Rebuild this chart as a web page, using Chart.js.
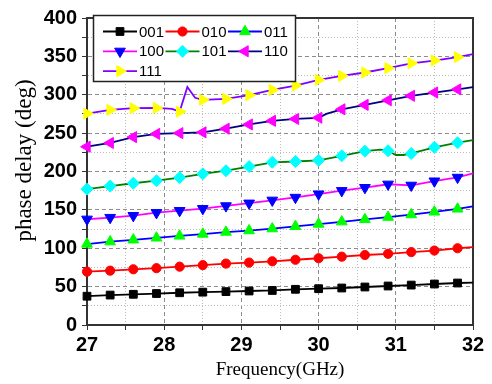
<!DOCTYPE html>
<html>
<head>
<meta charset="utf-8">
<script src="https://cdn.jsdelivr.net/npm/chart.js@4/dist/chart.umd.min.js"></script>
<style>
  html, body { margin: 0; padding: 0; background: #fff; }
  #wrap { width: 492px; height: 384px; position: relative; }
</style>
</head>
<body>
<div id="wrap"><canvas id="c" width="492" height="384"></canvas></div>
<script>
// Frequency grid (GHz), 0.1 GHz steps; null = no sample, line spans the gap
const _ = null;
const freqGHz = [
  27.0, 27.1, 27.2, 27.3, 27.4, 27.5, 27.6, 27.7, 27.8, 27.9,
  28.0, 28.1, 28.2, 28.3, 28.4, 28.5, 28.6, 28.7, 28.8, 28.9,
  29.0, 29.1, 29.2, 29.3, 29.4, 29.5, 29.6, 29.7, 29.8, 29.9,
  30.0, 30.1, 30.2, 30.3, 30.4, 30.5, 30.6, 30.7, 30.8, 30.9,
  31.0, 31.1, 31.2, 31.3, 31.4, 31.5, 31.6, 31.7, 31.8, 31.9, 32.0
];

// Phase delay (deg) for each 3-bit state
const phase001 = [37.5,_,_, 39,_,_, 40,_,_, 41,_,_, 42,_,_, 42.8,_,_, 43.5,_,_, 44.3,_,_, 45,_,_,
  46.5,_,_, 47.3,_,_, 48.2,_,_, 49.5,_,_, 50.8,_,_, 52,_,_, 53.4,_,_, 54.7,_,55.3];
const phase010 = [69.5,_,_, 70.8,_,_, 72.6,_,_, 74,_,_, 76,_,_, 78,_,_, 80,_,_, 81.3,_,_, 83,_,_,
  85,_,_, 87,_,_, 89,_,_, 91.2,_,_, 92.8,_,_, 95,_,_, 97,_,_, 100,_,101.5];
const phase011 = [105.5,_,_, 108.5,_,_, 111,_,_, 113.5,_,_, 116,_,_, 118.5,_,_, 121,_,_, 123,_,_, 125.5,_,_,
  128.5,_,_, 131.5,_,_, 134.5,_,_, 137.5,_,_, 140.5,_,_, 143.8,_,_, 147.3,_,_, 151.2,_,154.5];
const phase100 = [137.8,_,_, 140,_,_, 142.5,_,_, 146.3,_,_, 149,_,_, 151.6,_,_, 155.2,_,_, 158.7,_,_, 162.5,_,_,
  166.2,_,_, 170.6,_,_, 175,_,_, 179,_,_, 183.4,_,_, 182,_,_, 187.5,_,_, 192.3,_,197.5];
const phase101 = [177,_,_, 181,_,_, 184.7,_,_, 188,_,_, 192,_,_, 197,_,_, 201,_,_, 206.4,_,_, 212,_,_,
  213,_,_, 214.5,_,_, 220.5,_,_, 226.5,_,228.5, 227,221.5,221.5, 223.5,_,_, 231.5,_,_, 237.5,_,241];
const phase110 = [232.3,_,_, 237.2,_,_, 244.8,_,_, 249,_,_, 250,_,_, 251,_,_, 255.8,_,_, 261.3,_,_, 266,_,_,
  268.5,_,_, 270,275,_, 281,_,_, 286.8,_,_, 292.8,_,_, 298.6,_,_, 302.9,_,_, 307,_,310];
const phase111 = [275.5,_,_, 280.3,_,_, 282.5,_,_, 282.8,_,281.5, 278,310,296, 293.4,_,_, 294.6,_,_, 299.5,_,_, 306.4,_,_,
  312,_,_, 319.4,_,_, 324.6,_,_, 329,_,_, 334.7,_,_, 341,_,_, 344.6,_,_, 349,_,353];

const stateLabels = ['001', '010', '011', '100', '101', '110', '111'];
const xTitle = 'Frequency(GHz)';
const yTitle = 'phase delay (deg)';

const SANS = '"Liberation Sans", Arial, sans-serif';
const SERIF = '"Liberation Serif", "Times New Roman", serif';

// symbol on every third sample (27.0, 27.3, ... 31.8)
const markerAt = i => i % 3 === 0 && i <= 48;

function makeSeries(label, values, line, fill, style, rotation, radius) {
  return {
    label,
    data: values,
    borderColor: line,
    backgroundColor: fill,
    borderWidth: 1.8,
    pointStyle: style,
    rotation,
    pointRotation: rotation,
    pointBackgroundColor: fill,
    pointBorderColor: fill,
    pointBorderWidth: 1,
    pointRadius: c => markerAt(c.dataIndex) ? radius : 0,
    markerRadius: radius,
    spanGaps: true,
    tension: 0,
    clip: false
  };
}

const datasets = [
  makeSeries(stateLabels[0], phase001, '#000000', '#000000', 'rect', 0, 5.5),
  makeSeries(stateLabels[1], phase010, '#ff0000', '#ff0000', 'circle', 0, 4.6),
  makeSeries(stateLabels[2], phase011, '#0000ff', '#00ff00', 'triangle', 0, 6.2),
  makeSeries(stateLabels[3], phase100, '#ff00ff', '#0000ff', 'triangle', 180, 6.2),
  makeSeries(stateLabels[4], phase101, '#008000', '#00ffff', 'rectRot', 0, 6),
  makeSeries(stateLabels[5], phase110, '#000080', '#ff00ff', 'triangle', -90, 6.4),
  makeSeries(stateLabels[6], phase111, '#8000ff', '#ffff00', 'triangle', 90, 6.4)
];

function gridColor(c, majorStep) {
  if (!c.tick) return 'rgba(0,0,0,0)';
  const v = c.tick.value;
  const major = Math.abs(v / majorStep - Math.round(v / majorStep)) < 1e-6;
  return major ? '#8c8c8c' : '#bdbdbd';
}
function gridDash(c, majorStep) {
  if (!c.tick) return [];
  const v = c.tick.value;
  const major = Math.abs(v / majorStep - Math.round(v / majorStep)) < 1e-6;
  return major ? [4, 3] : [1, 2];
}

function symbol(ctx, ds, x, y) {
  ctx.save();
  ctx.fillStyle = ds.pointBackgroundColor;
  ctx.strokeStyle = ds.pointBorderColor;
  ctx.lineWidth = 1;
  Chart.helpers.drawPoint(ctx, {
    pointStyle: ds.pointStyle,
    rotation: ds.pointRotation,
    radius: ds.markerRadius,
    borderWidth: 1
  }, x, y);
  ctx.restore();
}

// top and right edges of the plot frame
const framePlugin = {
  id: 'plotFrame',
  beforeDatasetsDraw(chart) {
    const { ctx, chartArea: a } = chart;
    ctx.save();
    ctx.strokeStyle = '#333';
    ctx.lineWidth = 2;
    ctx.beginPath();
    ctx.moveTo(a.left, a.top);
    ctx.lineTo(a.right, a.top);
    ctx.lineTo(a.right, a.bottom);
    ctx.stroke();
    ctx.restore();
  }
};

// boxed legend, three entries per row, line sample with symbol
const legendPlugin = {
  id: 'boxLegend',
  afterDraw(chart) {
    const { ctx } = chart;
    const box = { x: 93.5, y: 15.5, w: 202, h: 66 };
    ctx.save();
    ctx.fillStyle = '#fff';
    ctx.fillRect(box.x, box.y, box.w, box.h);
    ctx.strokeStyle = '#222';
    ctx.lineWidth = 1.5;
    ctx.strokeRect(box.x, box.y, box.w, box.h);
    ctx.font = '15px ' + SANS;
    ctx.textAlign = 'left';
    ctx.textBaseline = 'middle';
    chart.data.datasets.forEach((ds, i) => {
      const col = i % 3, row = Math.floor(i / 3);
      const x0 = 103 + col * 62.5;
      const y0 = 31.5 + row * 19.8;
      ctx.strokeStyle = ds.borderColor;
      ctx.lineWidth = 1.8;
      ctx.beginPath();
      ctx.moveTo(x0, y0);
      ctx.lineTo(x0 + 34, y0);
      ctx.stroke();
      symbol(ctx, ds, x0 + 17, y0);
      ctx.fillStyle = '#000';
      ctx.fillText(ds.label, x0 + 36, y0 + 1);
    });
    ctx.restore();
  }
};

// vertical axis title
const yTitlePlugin = {
  id: 'yTitle',
  afterDraw(chart) {
    const { ctx, chartArea: a } = chart;
    ctx.save();
    ctx.translate(25, (a.top + a.bottom) / 2 - 11);
    ctx.rotate(-Math.PI / 2);
    ctx.font = '23px ' + SERIF;
    ctx.fillStyle = '#000';
    ctx.textAlign = 'center';
    ctx.textBaseline = 'middle';
    ctx.fillText(yTitle, 0, 0);
    ctx.restore();
  }
};

new Chart(document.getElementById('c'), {
  type: 'line',
  data: { labels: freqGHz, datasets: datasets.map(ds => ({
    ...ds, data: ds.data.map((v, i) => ({ x: freqGHz[i], y: v }))
  })) },
  options: {
    responsive: false,
    animation: false,
    devicePixelRatio: 1,
    parsing: true,
    layout: { padding: { top: 18, right: 19, left: 0, bottom: 0 } },
    plugins: { legend: { display: false }, tooltip: { enabled: false } },
    scales: {
      x: {
        type: 'linear',
        min: 27, max: 32,
        afterFit: s => { s.height = 59; },
        ticks: {
          stepSize: 0.5, autoSkip: false, maxRotation: 0, padding: 3,
          color: '#000',
          font: { family: SANS, size: 20, weight: 'bold' },
          callback: v => Number.isInteger(v) ? String(v) : ''
        },
        grid: {
          color: c => gridColor(c, 1),
          lineWidth: 1,
          tickColor: '#333',
          tickLength: 5
        },
        border: { display: true, color: '#333', width: 2, dash: c => gridDash(c, 1) },
        title: {
          display: true, text: xTitle, color: '#000',
          font: { family: SERIF, size: 19 },
          padding: { top: 0, bottom: 3 }
        }
      },
      y: {
        type: 'linear',
        min: 0, max: 400,
        afterFit: s => { s.width = 87; },
        ticks: {
          stepSize: 25, autoSkip: false, padding: 5,
          color: '#000',
          font: { family: SANS, size: 20, weight: 'bold' },
          callback: v => v % 50 === 0 ? String(v) : ''
        },
        grid: {
          color: c => gridColor(c, 50),
          lineWidth: 1,
          tickColor: '#333',
          tickLength: 5
        },
        border: { display: true, color: '#333', width: 2, dash: c => gridDash(c, 50) }
      }
    }
  },
  plugins: [framePlugin, legendPlugin, yTitlePlugin]
});
</script>
</body>
</html>
